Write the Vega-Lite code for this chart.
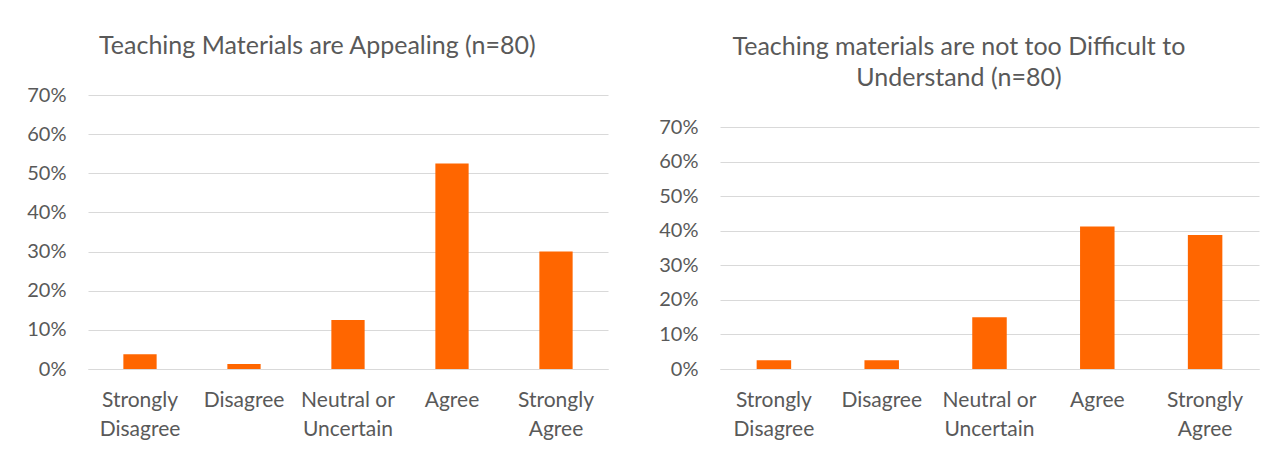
{
  "$schema": "https://vega.github.io/schema/vega-lite/v6.json",
  "background": "white",
  "padding": {"left": 26, "top": 34, "right": 5, "bottom": 5},
  "align": "none",
  "spacing": 50,
  "datasets": {
    "appealing": [
      {"response": "Strongly Disagree", "share": 0.0375},
      {"response": "Disagree", "share": 0.0125},
      {"response": "Neutral or Uncertain", "share": 0.125},
      {"response": "Agree", "share": 0.525},
      {"response": "Strongly Agree", "share": 0.30}
    ],
    "difficulty": [
      {"response": "Strongly Disagree", "share": 0.025},
      {"response": "Disagree", "share": 0.025},
      {"response": "Neutral or Uncertain", "share": 0.15},
      {"response": "Agree", "share": 0.4125},
      {"response": "Strongly Agree", "share": 0.3875}
    ]
  },
  "hconcat": [
    {
      "data": {"name": "appealing"},
      "width": 520,
      "height": 274,
      "title": {"text": "Teaching Materials are Appealing (n=80)", "offset": 26},
      "mark": {"type": "bar", "color": "#FF6600"},
      "encoding": {
        "x": {"field": "response", "type": "nominal", "sort": null, "title": null,
              "scale": {"paddingInner": 0.68, "paddingOuter": 0.34}},
        "y": {"field": "share", "type": "quantitative", "title": null,
              "scale": {"domain": [0, 0.7], "nice": false}}
      }
    },
    {
      "data": {"name": "difficulty"},
      "width": 539,
      "height": 274,
      "title": {"text": ["Teaching materials are not too Difficult to", "Understand (n=80)"], "offset": 4},
      "mark": {"type": "bar", "color": "#FF6600"},
      "encoding": {
        "x": {"field": "response", "type": "nominal", "sort": null, "title": null,
              "scale": {"paddingInner": 0.68, "paddingOuter": 0.34}},
        "y": {"field": "share", "type": "quantitative", "title": null,
              "scale": {"domain": [0, 0.7926], "nice": false}}
      }
    }
  ],
  "config": {
    "font": "Lato",
    "view": {"stroke": null},
    "title": {"font": "Lato", "fontSize": 25, "fontWeight": "normal", "color": "#595959", "anchor": "middle", "frame": "bounds", "lineHeight": 31},
    "axisY": {
      "values": [0, 0.1, 0.2, 0.3, 0.4, 0.5, 0.6, 0.7],
      "format": ".0%",
      "domain": false, "ticks": false,
      "labelFont": "Lato", "labelFontSize": 20, "labelColor": "#595959", "labelPadding": 22,
      "gridColor": "#D9D9D9", "gridWidth": 1
    },
    "axisX": {
      "labelAngle": 0, "ticks": false, "domainColor": "#D9D9D9", "domainWidth": 1,
      "labelFont": "Lato", "labelFontSize": 21, "labelColor": "#595959", "labelPadding": 20,
      "labelLineHeight": 29, "labelBaseline": "top",
      "labelExpr": "datum.label == 'Neutral or Uncertain' ? ['Neutral or', 'Uncertain'] : split(datum.label, ' ')"
    }
  }
}
